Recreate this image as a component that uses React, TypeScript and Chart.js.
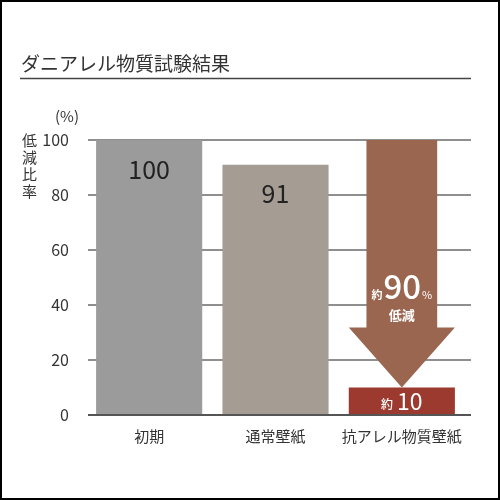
import { useEffect, useRef } from "react";
import { Chart, registerables } from "chart.js";

Chart.register(...registerables);

const chartTitle = "ダニアレル物質試験結果";
const categories = ["初期", "通常壁紙", "抗アレル物質壁紙"];
const values = [100, 91, 10];
const valueLabels = ["100", "91", "10"];
const yTicks = [0, 20, 40, 60, 80, 100];
const reductionValue = "90";
const approxPrefix = "約";
const percentSign = "%";
const reductionLabel = "低減";
const unitLabel = "(%)";
const yAxisTitleChars = ["低", "減", "比", "率"];

const FONT = "'Noto Sans CJK JP', 'Noto Sans', sans-serif";
const BAR_COLORS = ["#9b9b9c", "#a59d94", "#9c3a2f"];
const ARROW_COLOR = "#9b6650";
const GRID_COLOR = "#6a6a6a";
const TEXT_COLOR = "#333333";

const decorPlugin = {
  id: "decor",
  beforeDatasetsDraw(chart: any) {
    const { ctx, scales } = chart;
    const y = scales.y;
    ctx.save();
    ctx.strokeStyle = GRID_COLOR;
    ctx.lineWidth = 1.5;
    yTicks.forEach((v) => {
      if (v === 0) return;
      const py = y.getPixelForValue(v);
      ctx.beginPath();
      ctx.moveTo(88, py);
      ctx.lineTo(471, py);
      ctx.stroke();
    });
    ctx.restore();
  },
  afterDatasetsDraw(chart: any) {
    const { ctx, scales } = chart;
    const y = scales.y;
    const meta = chart.getDatasetMeta(0);
    ctx.save();
    // baseline
    const y0 = y.getPixelForValue(0);
    ctx.strokeStyle = "#555555";
    ctx.lineWidth = 2;
    ctx.beginPath();
    ctx.moveTo(88, y0);
    ctx.lineTo(471, y0);
    ctx.stroke();

    // value labels for first two bars
    ctx.fillStyle = "#222222";
    ctx.font = `25px ${FONT}`;
    ctx.textAlign = "center";
    ctx.textBaseline = "middle";
    for (let i = 0; i < 2; i++) {
      const bar = meta.data[i];
      ctx.fillText(valueLabels[i], bar.x, bar.y + 29);
    }

    // arrow over third bar
    const bar3 = meta.data[2];
    const cx = bar3.x;
    const bw = bar3.width;
    const yTop = y.getPixelForValue(values[0]);
    const yTip = y.getPixelForValue(values[2]);
    const shaftHalf = bw / 3;
    const headHalf = bw / 2;
    const headTop = yTip - 60;
    ctx.fillStyle = ARROW_COLOR;
    ctx.beginPath();
    ctx.moveTo(cx - shaftHalf, yTop);
    ctx.lineTo(cx + shaftHalf, yTop);
    ctx.lineTo(cx + shaftHalf, headTop);
    ctx.lineTo(cx + headHalf, headTop);
    ctx.lineTo(cx, yTip);
    ctx.lineTo(cx - headHalf, headTop);
    ctx.lineTo(cx - shaftHalf, headTop);
    ctx.closePath();
    ctx.fill();

    // 約90% text
    ctx.fillStyle = "#ffffff";
    ctx.textBaseline = "alphabetic";
    ctx.textAlign = "left";
    const fSmall = `bold 11px ${FONT}`;
    const fBig = `500 33px ${FONT}`;
    const fPct = `11px ${FONT}`;
    ctx.font = fSmall;
    const wA = ctx.measureText(approxPrefix).width;
    ctx.font = fBig;
    const wN = ctx.measureText(reductionValue).width;
    ctx.font = fPct;
    const wP = ctx.measureText(percentSign).width;
    const gap = 1;
    const total = wA + gap + wN + gap + wP;
    let xx = cx - total / 2;
    const base90 = 299;
    ctx.font = fSmall;
    ctx.fillText(approxPrefix, xx, base90);
    xx += wA + gap;
    ctx.font = fBig;
    ctx.fillText(reductionValue, xx, base90);
    xx += wN + gap;
    ctx.font = fPct;
    ctx.fillText(percentSign, xx, base90);

    ctx.font = `bold 13px ${FONT}`;
    ctx.textAlign = "center";
    ctx.textBaseline = "middle";
    ctx.fillText(reductionLabel, cx, 315);

    // 約10 label inside red bar
    const fS2 = `500 12px ${FONT}`;
    const fB2 = `23px ${FONT}`;
    ctx.textAlign = "left";
    ctx.textBaseline = "alphabetic";
    ctx.font = fS2;
    const wA2 = ctx.measureText(approxPrefix).width;
    ctx.font = fB2;
    const wN2 = ctx.measureText(valueLabels[2]).width;
    const gap2 = 4;
    let x2 = cx - (wA2 + gap2 + wN2) / 2;
    const base10 = (bar3.y + y0) / 2 + 8.5;
    ctx.font = fS2;
    ctx.fillText(approxPrefix, x2, base10 - 1);
    x2 += wA2 + gap2;
    ctx.font = fB2;
    ctx.fillText(valueLabels[2], x2, base10);
    ctx.restore();
  },
  afterDraw(chart: any) {
    const { ctx } = chart;
    ctx.save();
    // title
    ctx.fillStyle = TEXT_COLOR;
    ctx.font = `19px ${FONT}`;
    ctx.textAlign = "left";
    ctx.textBaseline = "middle";
    ctx.fillText(chartTitle, 21, 64);
    ctx.strokeStyle = "#444444";
    ctx.lineWidth = 1.5;
    ctx.beginPath();
    ctx.moveTo(20, 78.5);
    ctx.lineTo(471, 78.5);
    ctx.stroke();
    // unit
    ctx.font = `15px ${FONT}`;
    ctx.textAlign = "center";
    ctx.fillText(unitLabel, 67, 116);
    // vertical axis title
    ctx.font = `15px ${FONT}`;
    yAxisTitleChars.forEach((ch, i) => {
      ctx.fillText(ch, 29.5, 140 + i * 17);
    });
    // border
    ctx.strokeStyle = "#000000";
    ctx.lineWidth = 2;
    ctx.strokeRect(1, 1, 498, 498);
    ctx.restore();
  },
};

export default function App() {
  const canvasRef = useRef<HTMLCanvasElement | null>(null);

  useEffect(() => {
    if (!canvasRef.current) return;
    const chart = new Chart(canvasRef.current, {
      type: "bar",
      data: {
        labels: categories,
        datasets: [
          {
            data: values,
            backgroundColor: BAR_COLORS,
            borderWidth: 0,
            barPercentage: 0.84,
            categoryPercentage: 1,
          },
        ],
      },
      options: {
        responsive: false,
        animation: false,
        devicePixelRatio: 1,
        layout: { padding: { left: 0, right: 35, top: 140, bottom: 45 } },
        plugins: {
          legend: { display: false },
          tooltip: { enabled: false },
          title: { display: false },
        },
        scales: {
          x: {
            grid: { display: false },
            border: { display: false },
            ticks: {
              color: TEXT_COLOR,
              font: { family: FONT, size: 15 },
              padding: 4,
              maxRotation: 0,
              autoSkip: false,
            },
            afterFit: (scale: any) => {
              scale.height = 40;
            },
          },
          y: {
            min: 0,
            max: 100,
            grid: { display: false },
            border: { display: false },
            ticks: {
              stepSize: 20,
              color: TEXT_COLOR,
              font: { family: FONT, size: 16 },
              padding: 9,
            },
            afterFit: (scale: any) => {
              scale.width = 86;
            },
          },
        },
      },
      plugins: [decorPlugin],
    });
    return () => chart.destroy();
  }, []);

  return (
    <div
      style={{
        position: "fixed",
        left: 0,
        top: 0,
        width: 500,
        height: 500,
        background: "#ffffff",
      }}
    >
      <canvas ref={canvasRef} width={500} height={500} style={{ display: "block" }} />
    </div>
  );
}
